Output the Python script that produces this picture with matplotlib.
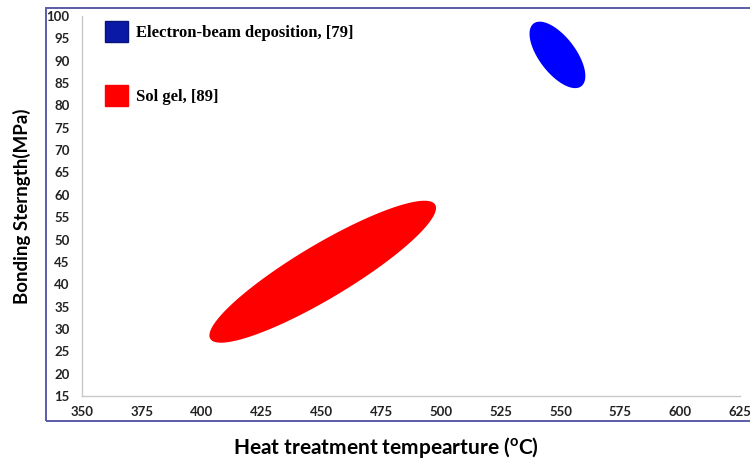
import numpy as np
import matplotlib.pyplot as plt
from matplotlib.patches import Rectangle, Patch, Polygon

# ellipse regions: center, semi-major vector, semi-minor vector (data units)
labels = ['Electron-beam deposition, [79]', 'Sol gel, [89]']
centers = [(548.7, 91.3), (450.6, 42.8)]
major = [(-10.0, 7.0), (47.0, 15.0)]
minor = [(6.0, 2.5), (5.8, -5.2)]
fill_colors = ['#0000ff', '#ff0000']
legend_colors = ['#0a1aa6', '#ff0000']

xticks = np.arange(350, 626, 25)
yticks = np.arange(15, 101, 5)

fig = plt.figure(figsize=(7.5, 4.61), dpi=100)
W, H = 750, 461

# outer chart frame
fig.patches.append(Rectangle((46 / W, 1 - 421 / H), 760 / W, 413 / H,
                             transform=fig.transFigure, fill=False,
                             edgecolor='#5c5ca8', lw=1.4))

ax = fig.add_axes([82 / W, 1 - 396 / H, (740 - 82) / W, (396 - 16) / H])
ax.set_xlim(350, 625)
ax.set_ylim(15, 100)

t = np.linspace(0, 2 * np.pi, 200)
for c, a, b, col in zip(centers, major, minor, fill_colors):
    px = c[0] + a[0] * np.cos(t) + b[0] * np.sin(t)
    py = c[1] + a[1] * np.cos(t) + b[1] * np.sin(t)
    ax.add_patch(Polygon(np.column_stack([px, py]), closed=True,
                         facecolor=col, edgecolor='none'))

for s in ['top', 'right']:
    ax.spines[s].set_visible(False)
for s in ['left', 'bottom']:
    ax.spines[s].set_color('#c8c8c8')
    ax.spines[s].set_linewidth(1.0)

ax.set_xticks(xticks)
ax.set_yticks(yticks)
ax.tick_params(length=0)
ax.tick_params(axis='x', pad=7)
ax.tick_params(axis='y', pad=9)
for lab in ax.get_xticklabels() + ax.get_yticklabels():
    lab.set_fontfamily('Lato')
    lab.set_fontweight('bold')
    lab.set_fontsize(9.5)
    lab.set_color('#222222')

ax.set_xlabel('Heat treatment tempearture ($\\mathregular{^o}$C)',
              fontfamily='Lato', fontweight='bold', fontsize=15)
ax.xaxis.set_label_coords(0.462, -0.102)
ax.set_ylabel('Bonding Sterngth(MPa)', fontfamily='Lato', fontweight='bold',
              fontsize=13.5, labelpad=11)

handles = [Patch(facecolor=legend_colors[0], edgecolor='#08127a'),
           Patch(facecolor=legend_colors[1], edgecolor='#ff0000')]
ax.legend(handles, labels, loc='upper left', bbox_to_anchor=(0.012, 1.025),
          frameon=False, handlelength=1.4, handleheight=1.5,
          labelspacing=2.6, handletextpad=0.45,
          prop={'family': 'Liberation Serif', 'weight': 'bold', 'size': 12})

fig.savefig('out.png', dpi=100)
